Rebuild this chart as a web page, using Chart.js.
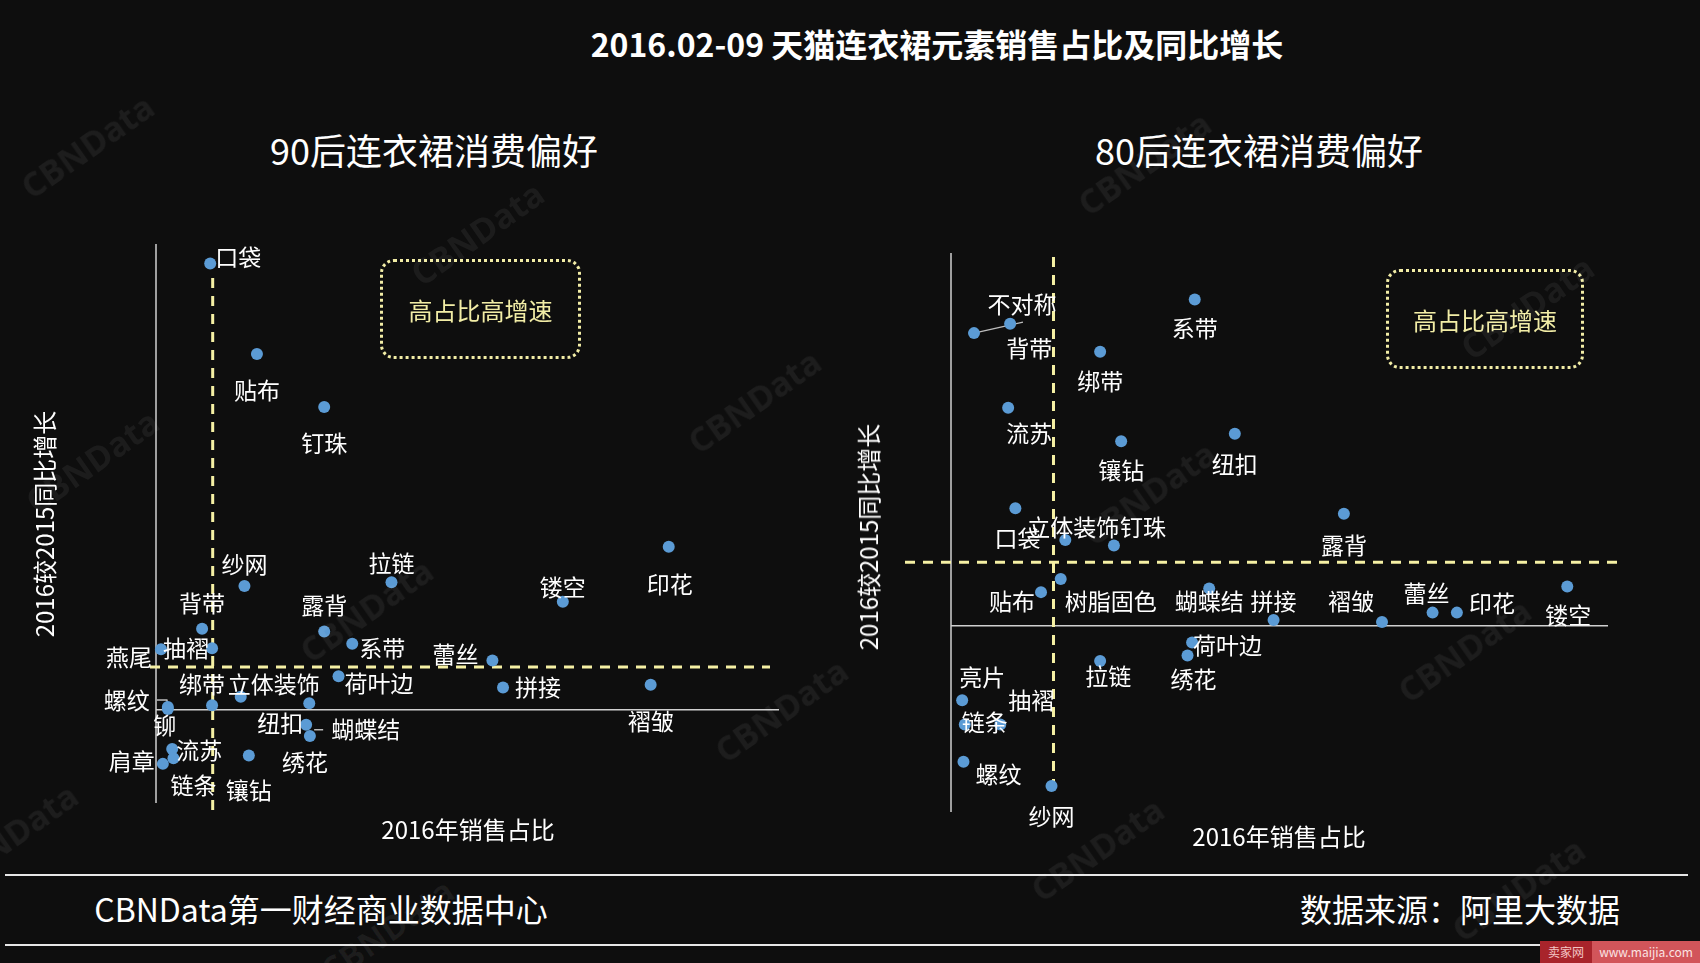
<!DOCTYPE html>
<html>
<head>
<meta charset="utf-8">
<script src="https://cdn.jsdelivr.net/npm/chart.js"></script>
<style>
  html,body{margin:0;padding:0;background:#0e0e0e;}
  #page{position:relative;width:1700px;height:963px;overflow:hidden;background:#0e0e0e;font-family:"Noto Sans CJK SC","Noto Sans",sans-serif;color:#fff;}
  .t{position:absolute;transform:translate(-50%,-50%);white-space:nowrap;line-height:1;}
  .rot{transform:translate(-50%,-50%) rotate(-90deg);}
  .box{position:absolute;border:3px dotted #f2eda6;border-radius:14px;box-sizing:border-box;color:#f2eda6;font-size:24px;display:flex;align-items:center;justify-content:center;}
  .rule{position:absolute;left:5px;width:1683px;height:2px;background:#e6e6e6;}
  .wm{position:absolute;font:bold 34px "Open Sans",sans-serif;color:rgba(255,255,255,.06);transform:translate(-50%,-50%) rotate(-35deg);white-space:nowrap;}
  canvas{position:absolute;}
</style>
</head>
<body>
<div id="page">
  <div class="t" style="left:937px;top:43px;font-size:32px;font-weight:700;">2016.02-09 天猫连衣裙元素销售占比及同比增长</div>
  <div class="t" style="left:434px;top:149px;font-size:36px;">90后连衣裙消费偏好</div>
  <div class="t" style="left:1259px;top:149px;font-size:36px;">80后连衣裙消费偏好</div>

  <canvas id="c90" width="850" height="640" style="left:0;top:200px;"></canvas>
  <canvas id="c80" width="850" height="640" style="left:850px;top:200px;"></canvas>

  <div class="t" style="left:468px;top:829px;font-size:24px;">2016年销售占比</div>
  <div class="t" style="left:1279px;top:836px;font-size:24px;">2016年销售占比</div>
  <div class="t rot" style="left:44px;top:524px;font-size:24px;">2016较2015同比增长</div>
  <div class="t rot" style="left:868px;top:537px;font-size:24px;">2016较2015同比增长</div>

  <div class="box" style="left:380px;top:259px;width:201px;height:100px;">高占比高增速</div>
  <div class="box" style="left:1386px;top:269px;width:198px;height:100px;">高占比高增速</div>

  <div class="rule" style="top:874px;"></div>
  <div class="rule" style="top:944px;"></div>
  <div class="t" style="left:321px;top:908px;font-size:32px;">CBNData第一财经商业数据中心</div>
  <div class="t" style="left:1460px;top:908px;font-size:32px;">数据来源：阿里大数据</div>

  <div style="position:absolute;left:1540px;top:941px;height:22px;display:flex;font-size:12px;line-height:22px;">
    <div style="background:#a8242b;color:#f3c4c4;width:52px;text-align:center;">卖家网</div>
    <div style="background:#d2555a;color:#fbe3e3;width:108px;text-align:center;">www.maijia.com</div>
  </div>
</div>

<script>
// ---- data: 90后 ----
const NAMES_90 = ['口袋','贴布','钉珠','纱网','拉链','印花','镂空','背带','露背','系带','燕尾','抽褶','蕾丝','荷叶边','拼接','褶皱','立体装饰','绑带','螺纹','铆','纽扣','蝴蝶结','绣花','流苏','链条','肩章','镶钻'];
const SHARE_90  = [0.87,1.62,2.70,1.42,3.78,8.23,6.53,0.74,2.70,3.15,0.08,0.90,5.40,2.93,5.57,7.94,1.36,0.90,0.19,0.19,2.46,2.41,2.47,0.26,0.28,0.11,1.49];
const GROWTH_90 = [4.79,3.82,3.25,1.33,1.37,1.75,1.16,0.87,0.84,0.71,0.65,0.66,0.53,0.36,0.24,0.27,0.14,0.05,0.03,0.01,0.07,-0.16,-0.28,-0.42,-0.52,-0.58,-0.49];
const AVG_SHARE_90 = 0.91, AVG_GROWTH_90 = 0.46;

// ---- data: 80后 ----
const NAMES_80 = ['不对称','背带','系带','绑带','流苏','镶钻','纽扣','口袋','立体装饰','钉珠','露背','树脂固色','贴布','蝴蝶结','拼接','褶皱','蕾丝','印花','镂空','荷叶边','绣花','拉链','亮片','链条','抽褶','螺纹','纱网'];
const SHARE_80  = [0.35,0.90,3.71,2.27,0.87,2.59,4.32,0.98,1.74,2.48,5.98,1.67,1.37,3.93,4.91,6.56,7.33,7.70,9.38,3.67,3.60,2.27,0.17,0.21,0.75,0.19,1.53];
const GROWTH_80 = [1.57,1.62,1.75,1.47,1.17,0.99,1.03,0.63,0.46,0.43,0.60,0.25,0.18,0.20,0.03,0.02,0.07,0.07,0.21,-0.09,-0.16,-0.19,-0.40,-0.53,-0.53,-0.73,-0.86];
const AVG_SHARE_80 = 1.56, AVG_GROWTH_80 = 0.34;

// ---- label placement (px offset from point, alignment) ----
const LBL_90 = {
  '口袋':[5,-6,'left'],'贴布':[0,36,'center'],'钉珠':[0,36,'center'],'纱网':[0,-22,'center'],'拉链':[0,-19,'center'],
  '印花':[1,37,'center'],'镂空':[0,-14,'center'],'背带':[0,-26,'center'],'露背':[0,-26,'center'],'系带':[7,5,'left'],
  '燕尾':[-9,8,'right'],'抽褶':[-3,0,'right'],'蕾丝':[-14,-6,'right'],'荷叶边':[6,7,'left'],'拼接':[12,0,'left'],
  '褶皱':[0,37,'center'],'立体装饰':[33,-13,'center'],'绑带':[-10,-21,'center'],'螺纹':[-18,-7,'right'],'铆':[-3,16,'center'],
  '纽扣':[-6,20,'right'],'蝴蝶结':[25,5,'left'],'绣花':[-5,26,'center'],'流苏':[4,1,'left'],'链条':[20,27,'center'],
  '肩章':[-8,-3,'right'],'镶钻':[0,35,'center']
};
const LEAD_90 = {'螺纹':[[-11,-7],[-1,-7],[0,-3]], '蝴蝶结':[[8,5],[17,5]]};

const LBL_80 = {
  '不对称':[48,-29,'center'],'背带':[19,24,'center'],'系带':[0,29,'center'],'绑带':[0,30,'center'],'流苏':[21,26,'center'],
  '镶钻':[0,29,'center'],'纽扣':[0,31,'center'],'口袋':[2,30,'center'],'立体装饰':[8,-13,'center'],'钉珠':[29,-18,'center'],
  '露背':[0,31,'center'],'树脂固色':[4,22,'left'],'贴布':[-6,9,'right'],'蝴蝶结':[0,13,'center'],'拼接':[0,-19,'center'],
  '褶皱':[-31,-21,'center'],'蕾丝':[-6,-19,'center'],'印花':[35,-9,'center'],'镂空':[1,29,'center'],'荷叶边':[1,3,'left'],
  '绣花':[6,24,'center'],'拉链':[8,15,'center'],'亮片':[20,-23,'center'],'链条':[20,-2,'center'],'抽褶':[31,-24,'center'],
  '螺纹':[35,13,'center'],'纱网':[0,30,'center']
};
const LEAD_80 = {'不对称':[[0,0],[49,-11]]};

const DOT = '#5b9bd5', DASH = '#f5f0a4', AXIS = '#d0d0d0';
const FONT = '23px "Noto Sans CJK SC", sans-serif';

function makePlugin(names, lbl, lead, refX, refY, ext){
  return {
    id:'decor',
    beforeDatasetsDraw(chart){
      const {ctx, chartArea:a, scales:{x, y}} = chart;
      ctx.save();
      // axes at x=0 and y=0
      ctx.strokeStyle = AXIS; ctx.lineWidth = 1.5;
      const x0 = x.getPixelForValue(0), y0 = y.getPixelForValue(0);
      ctx.beginPath(); ctx.moveTo(x0, a.top); ctx.lineTo(x0, a.bottom); ctx.stroke();
      ctx.beginPath(); ctx.moveTo(a.left, y0); ctx.lineTo(a.right, y0); ctx.stroke();
      // average reference lines
      ctx.strokeStyle = DASH; ctx.lineWidth = 3; ctx.setLineDash([10, 8]);
      const rx = x.getPixelForValue(refX), ry = y.getPixelForValue(refY);
      ctx.beginPath(); ctx.moveTo(rx, a.top + ext.vTop); ctx.lineTo(rx, a.bottom + ext.vBottom); ctx.stroke();
      ctx.beginPath(); ctx.moveTo(a.left + ext.hLeft, ry); ctx.lineTo(a.right + ext.hRight, ry); ctx.stroke();
      ctx.setLineDash([]);
      // leader lines
      const meta = chart.getDatasetMeta(0);
      ctx.strokeStyle = '#bdbdbd'; ctx.lineWidth = 1.5;
      Object.keys(lead).forEach(n => {
        const el = meta.data[names.indexOf(n)];
        ctx.beginPath();
        lead[n].forEach((p, i) => { i ? ctx.lineTo(el.x + p[0], el.y + p[1]) : ctx.moveTo(el.x + p[0], el.y + p[1]); });
        ctx.stroke();
      });
      ctx.restore();
    },
    afterDatasetsDraw(chart){
      const ctx = chart.ctx, meta = chart.getDatasetMeta(0);
      ctx.save();
      ctx.font = FONT; ctx.fillStyle = '#ffffff'; ctx.textBaseline = 'middle';
      names.forEach((n, i) => {
        const el = meta.data[i], o = lbl[n] || [0, 28, 'center'];
        ctx.textAlign = o[2];
        ctx.fillText(n, el.x + o[0], el.y + o[1]);
      });
      ctx.restore();
    }
  };
}

function build(id, names, xs, ys, refX, refY, yMin, yMax, pad, ext, lbl, lead){
  const pts = names.map((n, i) => ({x: xs[i], y: ys[i]}));
  return new Chart(document.getElementById(id), {
    type:'scatter',
    data:{ datasets:[{ data: pts, pointRadius:6, pointHoverRadius:6, pointBackgroundColor:DOT, pointBorderWidth:0, clip:false }] },
    options:{
      responsive:false, animation:false,
      layout:{ padding: pad },
      scales:{ x:{ type:'linear', min:0, max:10, display:false }, y:{ min:yMin, max:yMax, display:false } },
      plugins:{ legend:{ display:false }, tooltip:{ enabled:false } }
    },
    plugins:[ makePlugin(names, lbl, lead, refX, refY, ext) ]
  });
}

build('c90', NAMES_90, SHARE_90, GROWTH_90, AVG_SHARE_90, AVG_GROWTH_90, -1, 5,
  {left:156, right:71, top:44, bottom:37}, {vTop:34, vBottom:13, hLeft:-6, hRight:-9}, LBL_90, LEAD_90);
build('c80', NAMES_80, SHARE_80, GROWTH_80, AVG_SHARE_80, AVG_GROWTH_80, -1, 2,
  {left:101, right:92, top:53, bottom:28}, {vTop:4, vBottom:-19, hLeft:-46, hRight:15}, LBL_80, LEAD_80);

// faint watermarks
[[87,146],[477,233],[754,401],[92,461],[366,610],[781,710],[1144,163],[1149,493],[1527,307],[1464,650],[1097,849],[1518,889],[387,930],[11,835]]
  .forEach(p => { const d = document.createElement('div'); d.className = 'wm'; d.textContent = 'CBNData';
    d.style.left = p[0] + 'px'; d.style.top = p[1] + 'px'; document.getElementById('page').appendChild(d); });
</script>
</body>
</html>
